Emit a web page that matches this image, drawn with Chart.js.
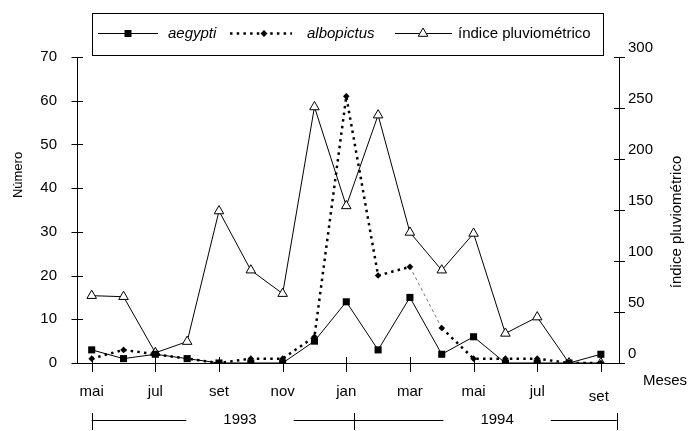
<!DOCTYPE html>
<html>
<head>
<meta charset="utf-8">
<script src="https://cdn.jsdelivr.net/npm/chart.js@4.4.1/dist/chart.umd.min.js"></script>
<style>
  html, body { margin: 0; padding: 0; background: #fff; }
</style>
</head>
<body>
<canvas id="chart" width="688" height="431"></canvas>
<script>
// meses de mai/1993 a set/1994
const months = ["mai", "jun", "jul", "ago", "set", "out", "nov", "dez", "jan", "fev", "mar", "abr", "mai", "jun", "jul", "ago", "set"];
const tickMonths = [0, 2, 4, 6, 8, 10, 12, 14, 16];
const aegypti = [3, 1, 2, 1, 0, 0, 0, 5, 14, 3, 15, 2, 6, 0, 0, 0, 2];
const albopictus = [1, 3, 2, 1, 0, 1, 1, 6, 61, 20, 22, 8, 1, 1, 1, 0, 0];
const indice = [66, 65, 10, 21, 149, 91, 68, 251, 154, 243, 128, 91, 127, 29, 45, 0, 0];
const leftTicks = [0, 10, 20, 30, 40, 50, 60, 70];
const rightTicks = [0, 50, 100, 150, 200, 250, 300];
const years = ["1993", "1994"];

const FONT = "'Liberation Sans', Arial, sans-serif";
const lastMonth = months.length - 1;

function toPoints(arr) {
  return arr.map(function (v, i) { return { x: i, y: v }; });
}

const extras = {
  id: "extras",
  beforeDatasetsDraw: function (chart) {
    const ctx = chart.ctx;
    const x = chart.scales.x, y = chart.scales.y, y2 = chart.scales.y2;
    ctx.save();
    ctx.strokeStyle = "#000";
    ctx.lineWidth = 1;
    ctx.beginPath();
    y.ticks.forEach(function (t) {
      const p = Math.round(y.getPixelForValue(t.value)) + 0.5;
      ctx.moveTo(x.left - 5.5, p);
      ctx.lineTo(x.left + 6, p);
    });
    y2.ticks.forEach(function (t) {
      const p = Math.round(y2.getPixelForValue(t.value)) + 0.5;
      ctx.moveTo(x.right - 5, p);
      ctx.lineTo(x.right + 6, p);
    });
    x.ticks.forEach(function (t) {
      const p = Math.round(x.getPixelForValue(t.value)) + 0.5;
      ctx.moveTo(p, y.bottom - 6);
      ctx.lineTo(p, y.bottom + 9);
    });
    ctx.stroke();
    ctx.restore();
  },
  afterDraw: function (chart) {
    const ctx = chart.ctx;
    const x = chart.scales.x;
    ctx.save();
    ctx.fillStyle = "#000";
    ctx.strokeStyle = "#000";
    ctx.lineWidth = 1;
    ctx.textBaseline = "middle";

    // legenda
    ctx.strokeRect(92.5, 13.5, 511, 42);
    const ly = 33.5;
    ctx.beginPath();
    ctx.moveTo(98, ly); ctx.lineTo(158, ly);
    ctx.stroke();
    ctx.fillRect(124.5, ly - 3.5, 7, 7);

    ctx.save();
    ctx.lineWidth = 2.5;
    ctx.setLineDash([2.5, 4.2]);
    ctx.beginPath();
    ctx.moveTo(230, ly); ctx.lineTo(292, ly);
    ctx.stroke();
    ctx.restore();
    ctx.beginPath();
    ctx.moveTo(264 - 3.5, ly); ctx.lineTo(264, ly - 3.5);
    ctx.lineTo(264 + 3.5, ly); ctx.lineTo(264, ly + 3.5);
    ctx.closePath();
    ctx.fill();

    ctx.beginPath();
    ctx.moveTo(395, ly); ctx.lineTo(452, ly);
    ctx.stroke();
    ctx.beginPath();
    ctx.moveTo(423, ly - 5.5);
    ctx.lineTo(423 + 4.8, ly + 2.8);
    ctx.lineTo(423 - 4.8, ly + 2.8);
    ctx.closePath();
    ctx.fillStyle = "#fff";
    ctx.fill();
    ctx.stroke();
    ctx.fillStyle = "#000";

    ctx.textAlign = "left";
    ctx.font = "italic 15px " + FONT;
    ctx.fillText("aegypti", 168, ly);
    ctx.fillText("albopictus", 307, ly);
    ctx.font = "15px " + FONT;
    ctx.fillText("índice pluviométrico", 458, ly);

    // Meses e o último rótulo (um pouco mais baixo no original)
    ctx.textAlign = "center";
    ctx.fillText("Meses", 665, 381);
    ctx.fillText(months[lastMonth], x.getPixelForValue(lastMonth) - 2, 397);

    // títulos dos eixos
    ctx.save();
    ctx.translate(677, 222);
    ctx.rotate(-Math.PI / 2);
    ctx.fillText("índice pluviométrico", 0, 0);
    ctx.restore();
    ctx.save();
    ctx.translate(18, 175);
    ctx.rotate(-Math.PI / 2);
    ctx.font = "13px " + FONT;
    ctx.fillText("Número", 0, 0);
    ctx.restore();

    // anos
    const yy = 420.5;
    const a = x.getPixelForValue(0), b = x.getPixelForValue(8.25), c = x.getPixelForValue(16.5);
    const centers = [x.getPixelForValue(4.66), x.getPixelForValue(12.74)];
    ctx.beginPath();
    [a, b, c].forEach(function (p) {
      p = Math.round(p) + 0.5;
      ctx.moveTo(p, 413); ctx.lineTo(p, 430);
    });
    const segs = [[a, b], [b, c]];
    years.forEach(function (yr, i) {
      const w = ctx.measureText(yr).width / 2 + 37;
      ctx.moveTo(segs[i][0], yy); ctx.lineTo(centers[i] - w, yy);
      ctx.moveTo(centers[i] + w, yy); ctx.lineTo(segs[i][1], yy);
      ctx.fillText(yr, centers[i], 420);
    });
    ctx.stroke();
    ctx.restore();
  }
};

const ctx = document.getElementById("chart").getContext("2d");
const myChart = new Chart(ctx, {
  type: "line",
  data: {
    datasets: [
      {
        label: "aegypti",
        data: toPoints(aegypti),
        yAxisID: "y",
        borderColor: "#000",
        borderWidth: 1,
        pointStyle: "rect",
        pointRadius: 5,
        pointBackgroundColor: "#000",
        pointBorderWidth: 0,
        tension: 0,
        order: 1,
      },
      {
        label: "albopictus",
        data: toPoints(albopictus),
        yAxisID: "y",
        borderColor: "#000",
        borderWidth: 2.5,
        borderDash: [2.5, 4.2],
        pointStyle: "rectRot",
        pointRadius: 3.3,
        pointBackgroundColor: "#000",
        pointBorderWidth: 0,
        tension: 0,
        order: 2,
        segment: {
          borderWidth: function (c) { return c.p0DataIndex === 10 ? 1 : undefined; },
          borderDash: function (c) { return c.p0DataIndex === 10 ? [3, 3] : undefined; },
          borderColor: function (c) { return c.p0DataIndex === 10 ? "#777" : undefined; },
        },
      },
      {
        label: "índice pluviométrico",
        data: toPoints(indice),
        yAxisID: "y2",
        borderColor: "#000",
        borderWidth: 1,
        pointStyle: "triangle",
        pointRadius: 5.5,
        pointBackgroundColor: "#fff",
        pointBorderColor: "#000",
        pointBorderWidth: 1,
        tension: 0,
        order: 3,
      },
    ],
  },
  options: {
    responsive: false,
    animation: false,
    devicePixelRatio: 1,
    layout: { padding: { top: 57, left: 0, right: 0, bottom: 0 } },
    plugins: {
      legend: { display: false },
      tooltip: { enabled: false },
    },
    scales: {
      x: {
        type: "linear",
        min: -0.462,
        max: 16.57,
        afterFit: function (s) { s.height = 68; },
        afterBuildTicks: function (s) {
          s.ticks = tickMonths.map(function (v) { return { value: v }; });
        },
        grid: { display: false, drawTicks: false },
        border: { display: true, color: "#000", width: 1 },
        ticks: {
          autoSkip: false,
          maxRotation: 0,
          padding: 20,
          color: "#000",
          font: { family: FONT, size: 15 },
          callback: function (v) { return v === lastMonth ? "" : months[v]; },
        },
      },
      y: {
        position: "left",
        min: 0,
        max: 70,
        afterFit: function (s) { s.width = 77; },
        afterBuildTicks: function (s) {
          s.ticks = leftTicks.map(function (v) { return { value: v }; });
        },
        grid: { display: false, drawTicks: false },
        border: { display: true, color: "#000", width: 1 },
        ticks: {
          padding: 20,
          color: "#000",
          font: { family: FONT, size: 15 },
        },
      },
      y2: {
        position: "right",
        min: 0,
        max: 300,
        afterFit: function (s) { s.width = 69; },
        afterBuildTicks: function (s) {
          s.ticks = rightTicks.map(function (v) { return { value: v }; });
        },
        grid: { display: false, drawTicks: false },
        border: { display: true, color: "#000", width: 1 },
        ticks: {
          padding: 9,
          labelOffset: -9,
          color: "#000",
          font: { family: FONT, size: 15 },
        },
      },
    },
  },
  plugins: [extras],
});
</script>
</body>
</html>
